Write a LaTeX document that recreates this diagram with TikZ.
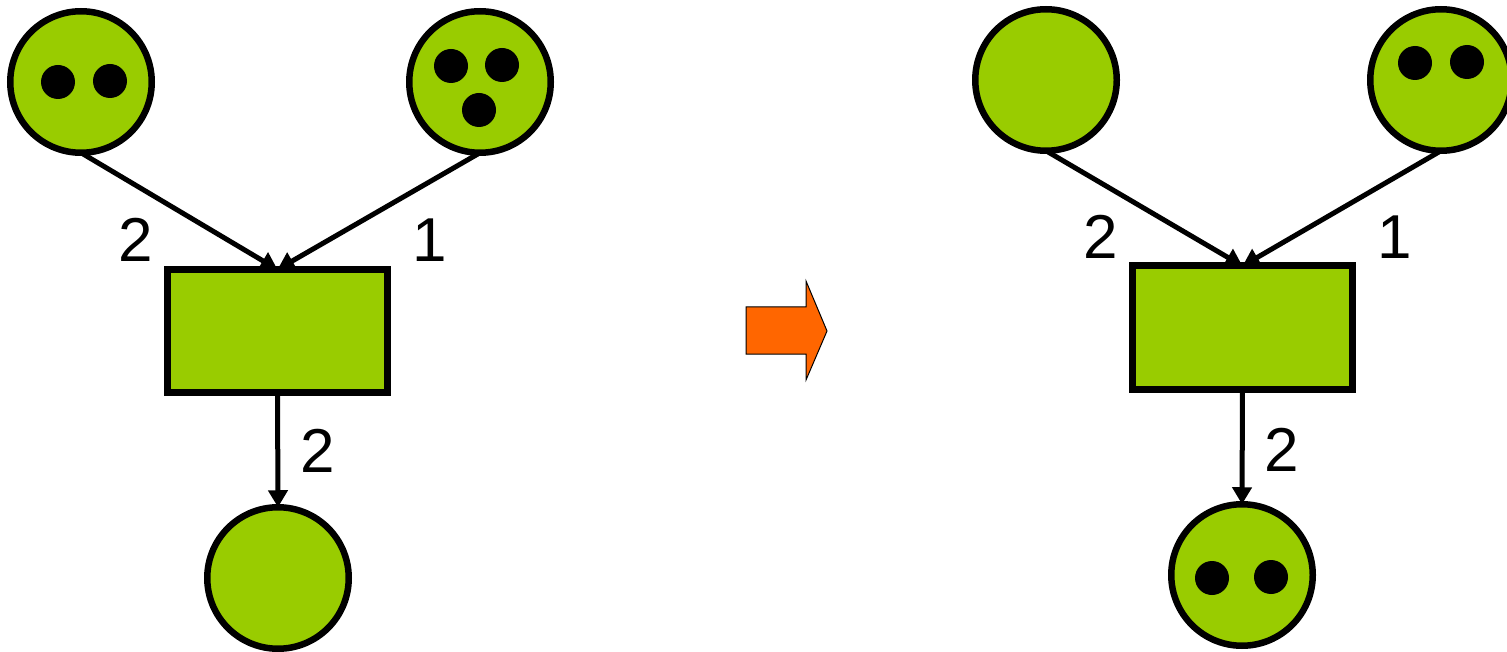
\documentclass[tikz,border=0pt]{standalone}
\usepackage{fontspec}
\setmainfont{Liberation Sans}
\usetikzlibrary{arrows.meta,backgrounds}
\definecolor{placegreen}{HTML}{99CC00}
\definecolor{fireorange}{HTML}{FF6600}
\begin{document}
\begin{tikzpicture}[x=1pt,y=-1pt,
  place/.style={circle,draw=black,fill=placegreen,line width=6.5pt,minimum size=141.5pt,inner sep=0pt,outer sep=0pt},
  token/.style={circle,fill=black,minimum size=34pt,inner sep=0pt},
  trans/.style={rectangle,draw=black,fill=placegreen,line width=7pt,minimum width=220pt,minimum height=123pt,inner sep=0pt,outer sep=0pt},
  arc/.style={line width=5pt,-{Triangle[length=17pt,width=19pt]}},
  weight/.style={font=\fontsize{62}{62}\selectfont,inner sep=0pt}]
\useasboundingbox (0,0) rectangle (1507,652);

% ---- net before firing ----
\node[place] (a1) at (81,82) {};
\node[place] (a2) at (480,82) {};
\node[trans] (at) at (277.5,331) {};
\node[place] (a3) at (278,578) {};

\node[token] (a1k1) at (58,82) {};
\node[token] (a1k2) at (110,81) {};
\node[token] (a2k1) at (451,66) {};
\node[token] (a2k2) at (502,65) {};
\node[token] (a2k3) at (479,110) {};

\node[weight] (aw1) at (136,240) {2};
\node[weight] (aw2) at (430,240) {1};
\node[weight] (aw3) at (318,451) {2};

% ---- firing arrow ----
\draw[fill=fireorange,line width=1pt]
  (746,307) -- (806,307) -- (806,281) -- (827,331) -- (806,380) -- (806,354) -- (746,354) -- cycle;

% ---- net after firing ----
\node[place] (b1) at (1046,80) {};
\node[place] (b2) at (1441,80) {};
\node[trans] (bt) at (1242.5,327.5) {};
\node[place] (b3) at (1242,575) {};

\node[token] (b2k1) at (1415,63) {};
\node[token] (b2k2) at (1467,62) {};
\node[token] (b3k1) at (1212,578) {};
\node[token] (b3k2) at (1271,577) {};

\node[weight] (bw1) at (1101,237) {2};
\node[weight] (bw2) at (1395,237) {1};
\node[weight] (bw3) at (1282,450) {2};

% ---- arcs, drawn under the nodes ----
\begin{pgfonlayer}{background}
  \draw[arc] (a1.south) -- (at.north);
  \draw[arc] (a2.south) -- (at.north);
  \draw[arc] (at.south) -- (a3.north);
  \draw[arc] (b1.south) -- (bt.north);
  \draw[arc] (b2.south) -- (bt.north);
  \draw[arc] (bt.south) -- (b3.north);
\end{pgfonlayer}
\end{tikzpicture}
\end{document}
